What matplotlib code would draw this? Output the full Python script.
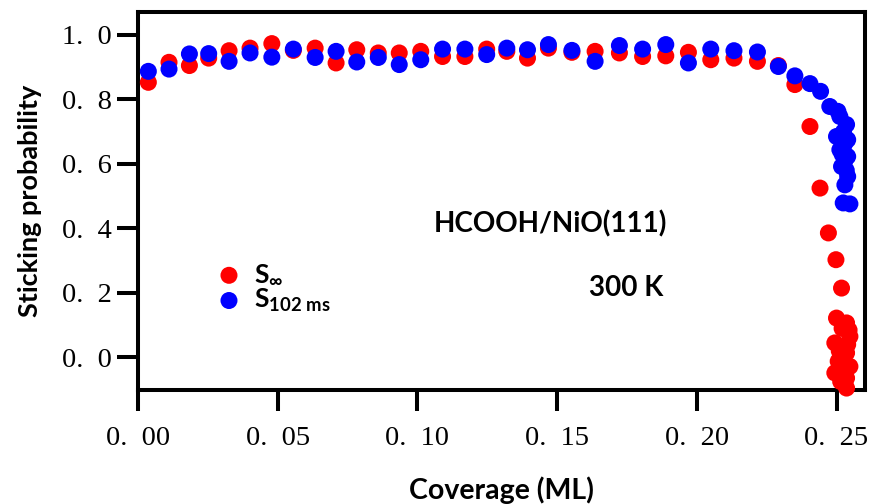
import matplotlib
matplotlib.use("Agg")
import matplotlib.pyplot as plt

# Flat part of the uptake curve (both series share the coverage points)
coverage = [0.0037, 0.0111, 0.0184, 0.0253, 0.0326, 0.0401, 0.0479, 0.0556, 0.0634, 0.0709,
            0.0783, 0.0860, 0.0935, 0.1012, 0.1090, 0.1170, 0.1248, 0.1320, 0.1394, 0.1469,
            0.1553, 0.1636, 0.1723, 0.1806, 0.1889, 0.1970, 0.2050, 0.2133, 0.2217, 0.2292]
s_inf = [0.853, 0.915, 0.905, 0.928, 0.951, 0.959, 0.973, 0.952, 0.959, 0.913,
         0.954, 0.944, 0.944, 0.949, 0.933, 0.933, 0.956, 0.949, 0.928, 0.959,
         0.946, 0.949, 0.944, 0.933, 0.935, 0.946, 0.923, 0.928, 0.918, 0.905]
s_102 = [0.887, 0.894, 0.941, 0.942, 0.918, 0.944, 0.931, 0.956, 0.930, 0.949,
         0.916, 0.930, 0.908, 0.923, 0.956, 0.956, 0.939, 0.959, 0.954, 0.970,
         0.952, 0.918, 0.967, 0.956, 0.970, 0.913, 0.956, 0.951, 0.947, 0.902]

# Saturation region
cov_inf_tail = [0.2351, 0.2405, 0.2441, 0.2471, 0.2498, 0.2518, 0.2500, 0.2536, 0.2548, 0.2494,
                0.2536, 0.2506, 0.2548, 0.2494, 0.2536, 0.2536, 0.2520, 0.2540, 0.2510, 0.2525,
                0.2545, 0.2515]
s_inf_tail = [0.846, 0.716, 0.525, 0.386, 0.303, 0.215, 0.122, 0.107, 0.065, 0.045,
              0.014, -0.012, -0.028, -0.048, -0.064, -0.095, 0.090, 0.040, 0.020, -0.040,
              0.085, -0.075]
cov_102_tail = [0.2351, 0.2405, 0.2443, 0.2476, 0.2505, 0.2512, 0.2536, 0.2500, 0.2540, 0.2512,
                0.2540, 0.2518, 0.2540, 0.2530, 0.2524, 0.2548, 0.2525, 0.2528, 0.2530, 0.2535,
                0.2520]
s_102_tail = [0.873, 0.849, 0.825, 0.778, 0.763, 0.747, 0.722, 0.685, 0.675, 0.644,
              0.623, 0.592, 0.561, 0.535, 0.479, 0.476, 0.700, 0.660, 0.610, 0.580,
              0.630]

xticks = [0.00, 0.05, 0.10, 0.15, 0.20, 0.25]
xtick_labels = ["0.\u200200", "0.\u200205", "0.\u200210", "0.\u200215", "0.\u200220", "0.\u200225"]
yticks = [0.0, 0.2, 0.4, 0.6, 0.8, 1.0]
ytick_labels = ["0.\u20020", "0.\u20022", "0.\u20024", "0.\u20026", "0.\u20028", "1.\u20020"]

RED = "#ff0000"
BLUE = "#0000ff"
SANS = "Lato"
SERIF = "Liberation Serif"

plt.rcParams["mathtext.fontset"] = "custom"
plt.rcParams["mathtext.rm"] = "Lato:bold"
plt.rcParams["mathtext.it"] = "Lato:bold"
plt.rcParams["mathtext.bf"] = "Lato:bold"

fig = plt.figure(figsize=(8.72, 5.04), dpi=100)
ax = fig.add_axes([138 / 872, 114 / 504, 727 / 872, 378 / 504])

ms = 150
ax.scatter(coverage + cov_inf_tail, s_inf + s_inf_tail, s=ms, color=RED, edgecolors="none",
           zorder=3, clip_on=False, label="S$_{\\infty}$")
ax.scatter(coverage + cov_102_tail, s_102 + s_102_tail, s=ms, color=BLUE, edgecolors="none",
           zorder=4, clip_on=False, label="S$_{102\\ \\mathrm{ms}}$")

ax.set_xlim(0.0, 0.2602)
ax.set_ylim(-0.101, 1.071)

ax.set_xticks(xticks)
ax.set_xticklabels(xtick_labels, fontfamily=[SERIF, "DejaVu Serif"], fontsize=20.5)
ax.set_yticks(yticks)
ax.set_yticklabels(ytick_labels, fontfamily=[SERIF, "DejaVu Serif"], fontsize=20.5)
ax.tick_params(axis="both", direction="out", length=15, width=2.9, color="black")
ax.tick_params(axis="x", pad=11)
ax.tick_params(axis="y", pad=4)

for side in ["left", "right", "top", "bottom"]:
    ax.spines[side].set_linewidth(2.9)
    ax.spines[side].set_zorder(2)

ax.set_xlabel("Coverage (ML)", fontfamily=SANS, fontweight="bold", fontsize=20.5, labelpad=18)
ax.set_ylabel("Sticking probability", fontfamily=SANS, fontweight="bold", fontsize=19.5, labelpad=14)

ax.text(0.1893, 0.414, "HCOOH/NiO(111)", fontfamily=SANS, fontweight="bold", fontsize=20,
        ha="right", va="center")
ax.text(0.1880, 0.215, "300 K", fontfamily=SANS, fontweight="bold", fontsize=20,
        ha="right", va="center")

ax.legend(loc="center left", bbox_to_anchor=(0.107, 0.27), frameon=False, borderpad=0,
          handlelength=1.0, handletextpad=0.45, labelspacing=0.0, borderaxespad=0,
          prop={"family": SANS, "weight": "bold", "size": 19})

fig.savefig("out.png", dpi=100)
